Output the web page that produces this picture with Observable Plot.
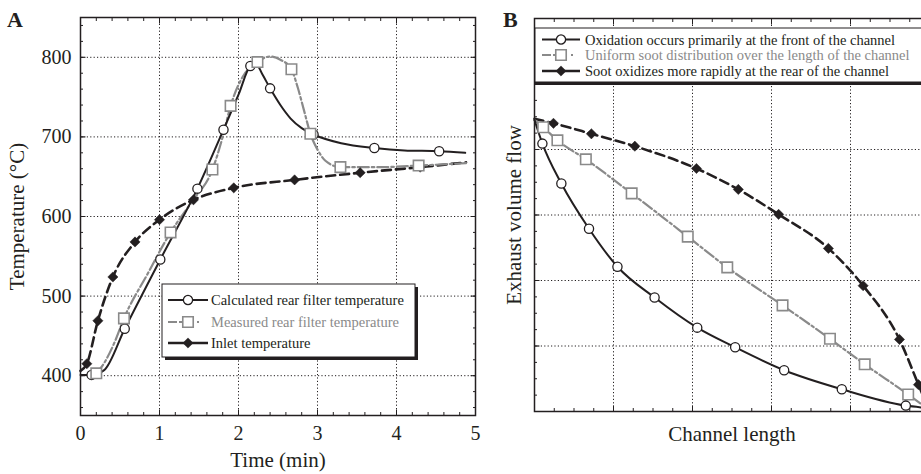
<!DOCTYPE html>
<html><head><meta charset="utf-8">
<script src="https://cdn.jsdelivr.net/npm/d3@7"></script>
<script src="https://cdn.jsdelivr.net/npm/@observablehq/plot@0.6"></script>
<style>
html,body{margin:0;padding:0;background:#fff;overflow:hidden;width:921px;height:474px}
#wrap{position:relative;width:921px;height:474px;overflow:hidden}
#wrap svg{position:absolute;top:0}
</style></head><body><div id="wrap"></div>
<script>
const FONT = "'Liberation Serif','Times New Roman',Times,serif";
const INK = "#231f20";
const GRAY = "#8a8a8a";

// ---------- Panel A data ----------
const timeTicks = [0, 1, 2, 3, 4, 5];
const timeMinorTicks = d3.range(0, 5.001, 0.2);
const tempTicks = [400, 500, 600, 700, 800];
const tempMinorTicks = d3.range(360, 841, 20);

const calcMarkers = [[0.14,401],[0.56,459],[1.01,546],[1.48,635],[1.81,709],[2.15,789],[2.40,761],[2.95,703],[3.72,686],[4.54,682]];
const calcLine = [[0,401],[0.14,401],[0.3,407],[0.56,459],[1.01,546],[1.48,635],[1.81,709],[2.0,753],[2.15,789],[2.22,792],[2.3,779],[2.40,761],[2.53,740],[2.66,723],[2.8,711],[2.95,703],[3.3,692],[3.72,686],[4.1,683],[4.54,682],[4.87,680]];
const measMarkers = [[0.2,403],[0.55,472],[1.14,580],[1.67,659],[1.9,739],[2.24,794],[2.67,785],[2.91,704],[3.29,662],[4.28,664]];
const measLine = [[0.2,403],[0.3,416],[0.44,444],[0.55,472],[0.85,528],[1.14,580],[1.42,620],[1.67,659],[1.8,700],[1.9,739],[2.05,775],[2.24,794],[2.4,801],[2.53,797],[2.67,785],[2.75,762],[2.83,733],[2.91,704],[3.0,684],[3.1,670],[3.29,662],[3.8,662],[4.28,664],[4.88,667]];
const inletMarkers = [[0.08,415],[0.22,469],[0.41,524],[0.69,568],[1.0,596],[1.43,621],[1.94,636],[2.71,646],[3.54,655],[4.3,662]];
const inletLine = [[0,406],[0.08,415],[0.22,469],[0.41,524],[0.69,568],[1.0,596],[1.43,621],[1.94,636],[2.71,646],[3.54,655],[4.3,662],[4.88,668]];
const legendALabels = ["Calculated rear filter temperature", "Measured rear filter temperature", "Inlet temperature"];

// ---------- Panel B data ----------
const lengthGrid = [1, 2, 3, 4];
const lengthTicks = [0, 1, 2, 3, 4, 5];
const lengthMinorTicks = d3.range(0, 5.001, 0.25);
const flowGrid = [1, 2, 3, 4, 5];
const flowTicks = [0, 1, 2, 3, 4, 5, 6];
const flowMinorTicks = d3.range(0, 6.001, 0.25);

const frontMarkers = [[0.10,4.09],[0.34,3.48],[0.69,2.79],[1.05,2.21],[1.52,1.74],[2.06,1.28],[2.54,0.98],[3.16,0.63],[3.89,0.34],[4.70,0.09]];
const frontLine = [[0,4.45],[0.10,4.09],[0.34,3.48],[0.69,2.79],[1.05,2.21],[1.52,1.74],[2.06,1.28],[2.54,0.98],[3.16,0.63],[3.89,0.34],[4.70,0.09],[5.0,0.05]];
const uniformMarkers = [[0.11,4.34],[0.29,4.14],[0.65,3.85],[1.23,3.33],[1.94,2.67],[2.44,2.20],[3.14,1.62],[3.74,1.11],[4.18,0.72],[4.73,0.26]];
const uniformLine = [[0,4.45],[0.11,4.34],[0.29,4.14],[0.65,3.85],[1.23,3.33],[1.94,2.67],[2.44,2.20],[3.14,1.62],[3.74,1.11],[4.18,0.72],[4.73,0.26],[5.0,0.02]];
const rearMarkers = [[0.24,4.40],[0.72,4.24],[1.27,4.05],[2.05,3.71],[2.58,3.39],[3.09,3.01],[3.72,2.49],[4.16,1.92],[4.62,1.10],[4.86,0.41]];
const rearLine = [[0,4.47],[0.24,4.40],[0.72,4.24],[1.27,4.05],[2.05,3.71],[2.58,3.39],[3.09,3.01],[3.72,2.49],[4.16,1.92],[4.62,1.10],[4.86,0.41],[5.0,0.0]];
const legendBLabels = ["Oxidation occurs primarily at the front of the channel", "Uniform soot distribution over the length of the channel", "Soot oxidizes more rapidly at the rear of the channel"];

// ---------- styles ----------
const S_CIRCLE = {symbol: "circle", r: 4.6, fill: "white", stroke: INK, strokeWidth: 1.3};
const S_SQUARE = {symbol: "square", r: 5.9, fill: "white", stroke: GRAY, strokeWidth: 1.6};
const S_DIAMOND = {symbol: "diamond2", r: 4.6, fill: INK, stroke: INK, strokeWidth: 0.5};
const L_SOLID = {stroke: INK, strokeWidth: 2};
const L_DASHDOT = {stroke: GRAY, strokeWidth: 2.2, strokeDasharray: "11,3,2.5,3"};
const L_DASH = {stroke: INK, strokeWidth: 2.6, strokeDasharray: "9,5"};
const GRID = {stroke: INK, strokeWidth: 1, strokeDasharray: "1.2,2.2"};

function frameTicks(xMajor, xMinor, yMajor, yMinor) {
  const o = {tickFormat: () => "", label: null, strokeWidth: 1, stroke: INK};
  return [
    Plot.axisX(xMinor, {...o, anchor: "bottom", tickSize: -3}),
    Plot.axisX(xMinor, {...o, anchor: "top", tickSize: -3}),
    Plot.axisX(xMajor, {...o, anchor: "bottom", tickSize: -5.5}),
    Plot.axisX(xMajor, {...o, anchor: "top", tickSize: -5.5}),
    Plot.axisY(yMinor, {...o, anchor: "left", tickSize: -3}),
    Plot.axisY(yMinor, {...o, anchor: "right", tickSize: -3}),
    Plot.axisY(yMajor, {...o, anchor: "left", tickSize: -5.5}),
    Plot.axisY(yMajor, {...o, anchor: "right", tickSize: -5.5})
  ];
}
const XY = {x: d => d[0], y: d => d[1]};

// ---------- Panel A ----------
const plotA = Plot.plot({
  width: 480, height: 474,
  marginLeft: 80, marginRight: 5, marginTop: 17, marginBottom: 59,
  x: {domain: [0, 5], label: null},
  y: {domain: [350, 850], label: null},
  style: {fontFamily: FONT, fontSize: "20px", color: INK, background: "transparent", overflow: "visible"},
  marks: [
    Plot.ruleX(timeTicks.slice(1, -1), GRID),
    Plot.ruleY(tempTicks, GRID),
    ...frameTicks(timeTicks, timeMinorTicks, tempTicks, tempMinorTicks),
    Plot.axisX(timeTicks, {anchor: "bottom", tickSize: 0, tickPadding: 10, fontSize: 20, label: null, fill: INK}),
    Plot.axisY(tempTicks, {anchor: "left", tickSize: 0, tickPadding: 9, fontSize: 20, label: null, fill: INK}),
    Plot.line(inletLine, {...XY, ...L_DASH, curve: "monotone-x"}),
    Plot.line(measLine, {...XY, ...L_DASHDOT, curve: "monotone-x"}),
    Plot.line(calcLine, {...XY, ...L_SOLID, curve: "monotone-x"}),
    Plot.dot(inletMarkers, {...XY, ...S_DIAMOND}),
    Plot.dot(calcMarkers, {...XY, ...S_CIRCLE}),
    Plot.dot(measMarkers, {...XY, ...S_SQUARE}),
    Plot.frame({stroke: INK, strokeWidth: 1.5}),
    Plot.text(["Time (min)"], {text: d => d, frameAnchor: "bottom", textAnchor: "middle", lineAnchor: "middle", dy: 45, fontSize: 21, fill: INK}),
    Plot.text(["Temperature (°C)"], {text: d => d, frameAnchor: "left", textAnchor: "middle", lineAnchor: "middle", dx: -63, rotate: -90, fontSize: 21, fill: INK})
  ]
});
plotA.style.left = "0px";

// ---------- Panel B ----------
const plotB = Plot.plot({
  width: 460, height: 474,
  marginLeft: 54, marginRight: 11, marginTop: 18, marginBottom: 63,
  x: {domain: [0, 5], label: null},
  y: {domain: [0, 6], label: null},
  style: {fontFamily: FONT, fontSize: "20px", color: INK, background: "transparent", overflow: "visible"},
  marks: [
    Plot.ruleX(lengthGrid, GRID),
    Plot.ruleY(flowGrid, GRID),
    ...frameTicks(lengthTicks, lengthMinorTicks, flowTicks, flowMinorTicks),
    Plot.line(rearLine, {...XY, ...L_DASH, curve: "monotone-x"}),
    Plot.line(uniformLine, {...XY, ...L_DASHDOT, curve: "monotone-x"}),
    Plot.line(frontLine, {...XY, ...L_SOLID, curve: "monotone-x"}),
    Plot.dot(rearMarkers, {...XY, ...S_DIAMOND}),
    Plot.dot(uniformMarkers, {...XY, ...S_SQUARE}),
    Plot.dot(frontMarkers, {...XY, ...S_CIRCLE}),
    Plot.frame({stroke: INK, strokeWidth: 1.5}),
    Plot.text(["Channel length"], {text: d => d, frameAnchor: "bottom", textAnchor: "middle", lineAnchor: "middle", dy: 23, fontSize: 21, fill: INK}),
    Plot.text(["Exhaust volume flow"], {text: d => d, frameAnchor: "left", textAnchor: "middle", lineAnchor: "middle", dx: -20, rotate: -90, fontSize: 21, fill: INK})
  ]
});
plotB.style.left = "480px";

const wrap = document.getElementById("wrap");
wrap.appendChild(plotA);
wrap.appendChild(plotB);

// ---------- legends & panel letters ----------
const symbolPath = (type, r) => d3.symbol().type(type).size(Math.PI * r * r)();
const legendStyles = [
  {line: L_SOLID, sym: d3.symbolCircle, s: S_CIRCLE, color: INK},
  {line: L_DASHDOT, sym: d3.symbolSquare, s: S_SQUARE, color: GRAY},
  {line: L_DASH, sym: d3.symbolDiamond2, s: S_DIAMOND, color: INK}
];
function legendRows(g, labels, rows, x0, x1, tx, fontSize) {
  labels.forEach((lab, i) => {
    const st = legendStyles[i];
    const y = rows[i];
    g.append("line").attr("x1", x0).attr("x2", x1).attr("y1", y).attr("y2", y)
      .attr("stroke", st.line.stroke).attr("stroke-width", st.line.strokeWidth)
      .attr("stroke-dasharray", i === 1 ? "9,2,9" : null);
    g.append("path").attr("d", symbolPath(st.sym, st.s.r))
      .attr("transform", `translate(${(x0 + x1) / 2},${y})`)
      .attr("fill", st.s.fill).attr("stroke", st.s.stroke).attr("stroke-width", st.s.strokeWidth);
    g.append("text").attr("x", tx).attr("y", y).attr("dy", "0.35em").attr("text-anchor", "start")
      .attr("font-size", fontSize).attr("font-family", FONT).attr("fill", st.color).text(lab);
  });
}

// Legend A
{
  const g = d3.select(plotA).append("g");
  g.append("rect").attr("x", 165).attr("y", 287).attr("width", 253).attr("height", 73).attr("fill", INK);
  g.append("rect").attr("x", 162).attr("y", 284).attr("width", 253).attr("height", 73)
    .attr("fill", "white").attr("stroke", INK).attr("stroke-width", 1);
  legendRows(g, legendALabels, [300, 322, 343], 168, 208, 211, "14.5px");
  d3.select(plotA).append("text").attr("x", 7).attr("y", 27).attr("font-size", "22px").attr("text-anchor", "start")
    .attr("font-weight", "bold").attr("font-family", FONT).attr("fill", INK).text("A");
}
// Legend B
{
  const g = d3.select(plotB).append("g");
  g.append("rect").attr("x", 55).attr("y", 28).attr("width", 420).attr("height", 55)
    .attr("fill", "white").attr("stroke", INK).attr("stroke-width", 1);
  g.append("rect").attr("x", 55).attr("y", 81.5).attr("width", 420).attr("height", 3.5).attr("fill", INK);
  legendRows(g, legendBLabels, [39.5, 55, 71], 62, 100, 105, "14.5px");
  d3.select(plotB).append("text").attr("x", 23).attr("y", 27).attr("font-size", "22px").attr("text-anchor", "start")
    .attr("font-weight", "bold").attr("font-family", FONT).attr("fill", INK).text("B");
}
</script>
</body></html>
